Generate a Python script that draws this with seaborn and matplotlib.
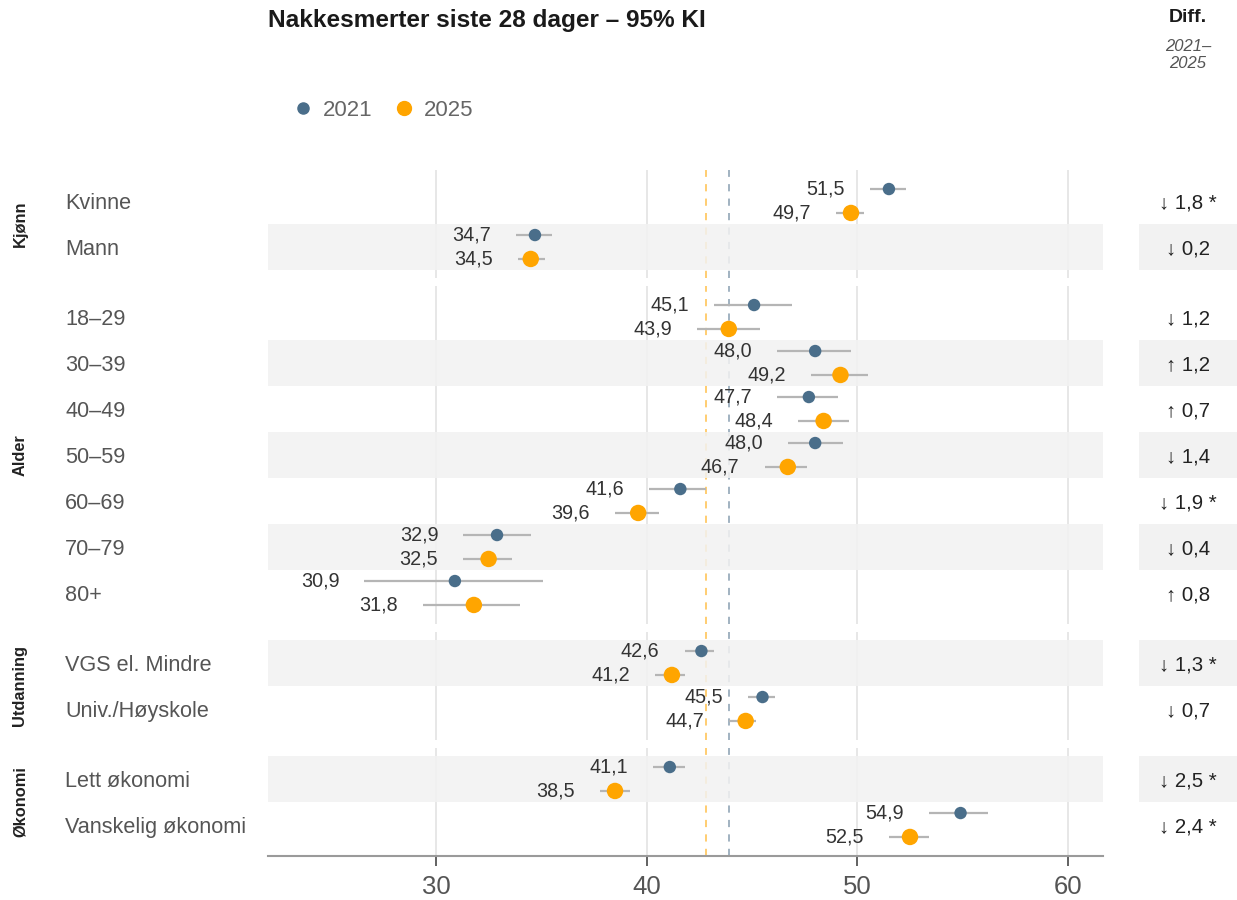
import numpy as np
import pandas as pd
import matplotlib
matplotlib.use("Agg")
import matplotlib.pyplot as plt
import matplotlib.transforms as mtransforms
from matplotlib.lines import Line2D
import seaborn as sns

# data
groups = ["Kjønn", "Alder", "Utdanning", "Økonomi"]
group_of_row = ["Kjønn"] * 2 + ["Alder"] * 7 + ["Utdanning"] * 2 + ["Økonomi"] * 2
row_labels = ["Kvinne", "Mann", "18–29", "30–39", "40–49", "50–59", "60–69",
              "70–79", "80+", "VGS el. Mindre", "Univ./Høyskole",
              "Lett økonomi", "Vanskelig økonomi"]
val_2021 = [51.5, 34.7, 45.1, 48.0, 47.7, 48.0, 41.6, 32.9, 30.9, 42.6, 45.5, 41.1, 54.9]
lo_2021 = [50.6, 33.8, 43.2, 46.2, 46.2, 46.7, 40.1, 31.3, 26.6, 41.8, 44.8, 40.3, 53.4]
hi_2021 = [52.3, 35.5, 46.9, 49.7, 49.1, 49.3, 42.8, 34.5, 35.1, 43.2, 46.1, 41.8, 56.2]
val_2025 = [49.7, 34.5, 43.9, 49.2, 48.4, 46.7, 39.6, 32.5, 31.8, 41.2, 44.7, 38.5, 52.5]
lo_2025 = [49.0, 33.9, 42.4, 47.8, 47.2, 45.6, 38.5, 31.3, 29.4, 40.4, 43.9, 37.8, 51.5]
hi_2025 = [50.3, 35.2, 45.4, 50.5, 49.6, 47.6, 40.6, 33.6, 34.0, 41.8, 45.2, 39.2, 53.4]
diff_val = [-1.8, -0.2, -1.2, 1.2, 0.7, -1.4, -1.9, -0.4, 0.8, -1.3, -0.7, -2.5, -2.4]
signif = [True, False, False, False, False, False, True, False, False, True, False, True, True]
mean_2021 = 43.9
mean_2025 = 42.8
x_ticks = [30, 40, 50, 60]

c2021 = "#4a6e8a"
c2025 = "#ffa500"
ci_col = "#b5b5b5"

sns.set_theme(style="white")
plt.rcParams["font.family"] = ["Liberation Sans", "DejaVu Sans"]

rows = []
for i in range(len(row_labels)):
    rows.append(dict(row=i, group=group_of_row[i], label=row_labels[i], year="2021",
                     value=val_2021[i], lo=lo_2021[i], hi=hi_2021[i], off=-0.26))
    rows.append(dict(row=i, group=group_of_row[i], label=row_labels[i], year="2025",
                     value=val_2025[i], lo=lo_2025[i], hi=hi_2025[i], off=0.26))
df = pd.DataFrame(rows)

W, H = 1237, 900
fig = plt.figure(figsize=(W / 100, H / 100), dpi=100)

row_h = 46
pad = 8
gap = 8
ax_left, ax_right = 268, 1103
diff_left, diff_right = 1139, 1237
xlim = (22.03, 61.66)

top = 170
for g in groups:
    sub = df[df["group"] == g].copy()
    idx = sorted(sub["row"].unique())
    n = len(idx)
    h = n * row_h + 2 * pad
    sub["local"] = sub["row"] - idx[0]
    sub["ypos"] = sub["local"] + sub["off"]

    ax = fig.add_axes([ax_left / W, 1 - (top + h) / H, (ax_right - ax_left) / W, h / H])
    dax = fig.add_axes([diff_left / W, 1 - (top + h) / H, (diff_right - diff_left) / W, h / H])
    ylim = (n - 0.5 + pad / row_h, -0.5 - pad / row_h)

    for k, r in enumerate(idx):
        if r % 2 == 1:
            ax.axhspan(k - 0.5, k + 0.5, color="#f2f2f2", alpha=0.85, zorder=1, lw=0)
            dax.axhspan(k - 0.5, k + 0.5, color="#f2f2f2", zorder=0, lw=0)
        d = diff_val[r]
        arrow = "↑" if d > 0 else "↓"
        txt = f"{arrow} {abs(d):.1f}".replace(".", ",") + (" *" if signif[r] else "")
        dax.text(0.5, k, txt, ha="center", va="center_baseline", fontsize=14.7, color="#222222")
        # row label
        trans = mtransforms.blended_transform_factory(fig.transFigure, ax.transData)
        ax.text(65 / W, k, row_labels[r], transform=trans, ha="left", va="center_baseline",
                fontsize=15.6, color="#555555")

    for xv in x_ticks:
        ax.axvline(xv, color="#e3e3e3", lw=1.2, zorder=0)
    ax.axvline(mean_2025, color=c2025, lw=1.3, ls=(0, (4, 4)), alpha=0.6, zorder=0.5)
    ax.axvline(mean_2021, color="#8fa3b5", lw=1.3, ls=(0, (4, 4)), alpha=0.9, zorder=0.5)

    ax.hlines(sub["ypos"], sub["lo"], sub["hi"], color=ci_col, lw=1.6, zorder=2)
    sns.scatterplot(data=sub, x="value", y="ypos", hue="year", size="year",
                    palette={"2021": c2021, "2025": c2025},
                    sizes={"2021": 80, "2025": 140}, linewidth=0,
                    legend=False, ax=ax, zorder=3)
    for _, rr in sub.iterrows():
        ax.annotate(f"{rr['value']:.1f}".replace(".", ","), (rr["lo"], rr["ypos"]),
                    xytext=(-18, 0), textcoords="offset points", ha="right",
                    va="center", fontsize=14.2, color="#333333", zorder=4)

    ax.set_xlim(*xlim)
    ax.set_ylim(*ylim)
    dax.set_xlim(0, 1)
    dax.set_ylim(*ylim)
    dax.axis("off")
    ax.set_xlabel("")
    ax.set_ylabel("")
    ax.set_yticks([])
    for s in ["top", "right", "left", "bottom"]:
        ax.spines[s].set_visible(False)
    ax.set_facecolor("none")

    if g == groups[-1]:
        ax.spines["bottom"].set_visible(True)
        ax.spines["bottom"].set_color("#9a9a9a")
        ax.spines["bottom"].set_linewidth(1.5)
        ax.set_xticks(x_ticks)
        ax.set_xticklabels([str(t) for t in x_ticks])
        ax.tick_params(axis="x", bottom=True, length=7, width=1.3, color="#555555",
                       labelsize=18.5, labelcolor="#555555", pad=7)
    else:
        ax.set_xticks([])

    fig.text(20 / W, 1 - (top + h / 2) / H, g, rotation=90, ha="center", va="center",
             fontsize=11.8, fontweight="bold", color="#222222")
    top += h + gap

fig.text(268 / W, 1 - 21 / H, "Nakkesmerter siste 28 dager – 95% KI", ha="left",
         va="center", fontsize=17.6, fontweight="bold", color="#1a1a1a")
fig.text(1188 / W, 1 - 18 / H, "Diff.", ha="center", va="center", fontsize=14,
         fontweight="bold", color="#1a1a1a")
fig.text(1188 / W, 1 - 55 / H, "2021–\n2025", ha="center", va="center", fontsize=12,
         style="italic", color="#555555", linespacing=1.2)

handles = [Line2D([], [], marker="o", ls="", color=c2021, markersize=8),
           Line2D([], [], marker="o", ls="", color=c2025, markersize=10)]
fig.legend(handles, ["2021", "2025"], loc="center left", bbox_to_anchor=(272 / W, 1 - 110 / H),
           ncol=2, frameon=False, fontsize=16, labelcolor="#666666", handletextpad=0.4,
           columnspacing=0.9, handlelength=1.0)

fig.savefig("out.png", dpi=100)
